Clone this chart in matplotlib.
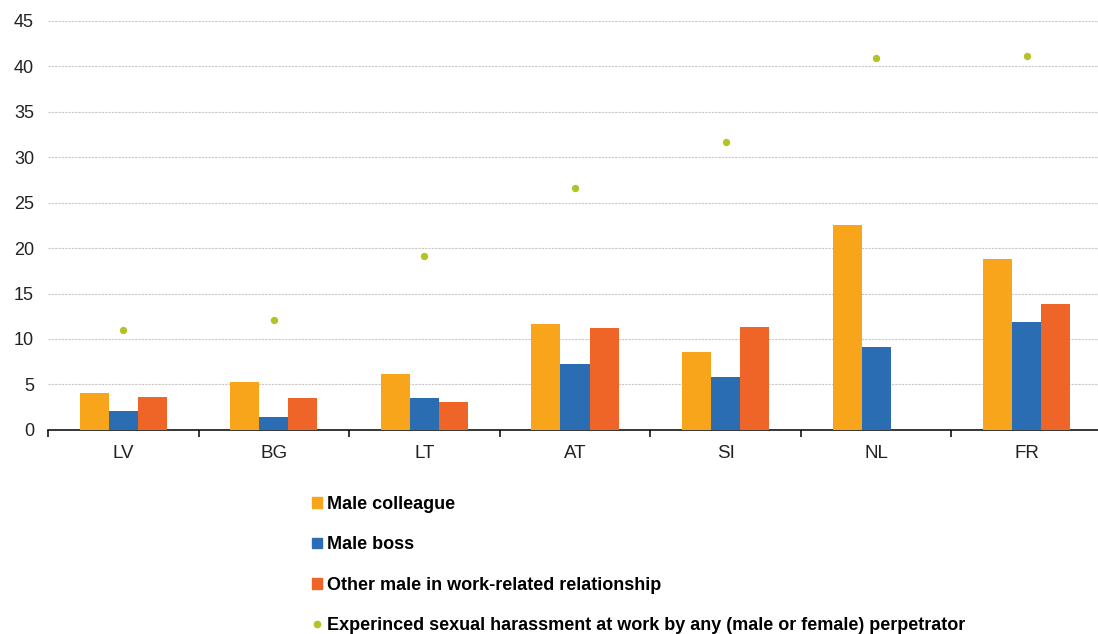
import matplotlib.pyplot as plt
import numpy as np
from matplotlib.patches import Patch
from matplotlib.lines import Line2D

plt.rcParams['font.family'] = ['Liberation Sans', 'DejaVu Sans']

countries = ['LV', 'BG', 'LT', 'AT', 'SI', 'NL', 'FR']
male_colleague = [4.1, 5.3, 6.2, 11.6, 8.6, 22.5, 18.8]
male_boss = [2.1, 1.4, 3.5, 7.3, 5.8, 9.1, 11.9]
other_male = [3.6, 3.5, 3.1, 11.2, 11.3, np.nan, 13.9]
any_perpetrator = [11.0, 12.1, 19.1, 26.6, 31.7, 40.9, 41.1]

c_colleague = '#F9A51C'
c_boss = '#2A6DB3'
c_other = '#EF6528'
c_dot = '#B3C325'

fig = plt.figure(figsize=(10.98, 6.34), dpi=100)
ax = fig.add_axes([0.0437, 0.322, 0.96, 0.645])

x = np.arange(len(countries))
w = 0.193
ax.bar(x - w, male_colleague, w, color=c_colleague, zorder=3)
ax.bar(x, male_boss, w, color=c_boss, zorder=3)
ax.bar(x + w, other_male, w, color=c_other, zorder=3)
ax.scatter(x, any_perpetrator, s=28, color=c_dot, zorder=4, linewidths=0)

ax.set_xlim(-0.5, len(countries) - 0.5)
ax.set_ylim(0, 45)
ax.set_yticks(range(0, 46, 5))
ax.yaxis.grid(True, color='#c8c8c8', linestyle=(0, (2, 1)), linewidth=0.8, zorder=0)
ax.set_axisbelow(True)

for s in ['left', 'right', 'top']:
    ax.spines[s].set_visible(False)
ax.spines['bottom'].set_color('black')
ax.spines['bottom'].set_linewidth(1.1)

ax.set_xticks(x)
ax.set_xticklabels(countries)
ax.set_xticks(np.arange(-0.5, len(countries) - 1), minor=True)
ax.tick_params(axis='x', which='major', length=0, labelsize=13.5, pad=11, colors='#222222')
ax.tick_params(axis='x', which='minor', length=5, width=1.1, direction='out', color='black')
ax.tick_params(axis='y', length=0, labelsize=13, pad=10, colors='#222222')

handles = [
    Patch(color=c_colleague, label='Male colleague'),
    Patch(color=c_boss, label='Male boss'),
    Patch(color=c_other, label='Other male in work-related relationship'),
    Line2D([], [], marker='o', linestyle='none', markersize=4.5, color=c_dot,
           label='Experinced sexual harassment at work by any (male or female) perpetrator'),
]
fig.legend(handles=handles, loc='upper left', bbox_to_anchor=(0.276, 0.232),
           frameon=False, prop={'weight': 'bold', 'size': 13},
           handlelength=0.55, handleheight=0.55, handletextpad=0.3,
           labelspacing=1.3, borderpad=0)

fig.savefig('out.png', dpi=100)
